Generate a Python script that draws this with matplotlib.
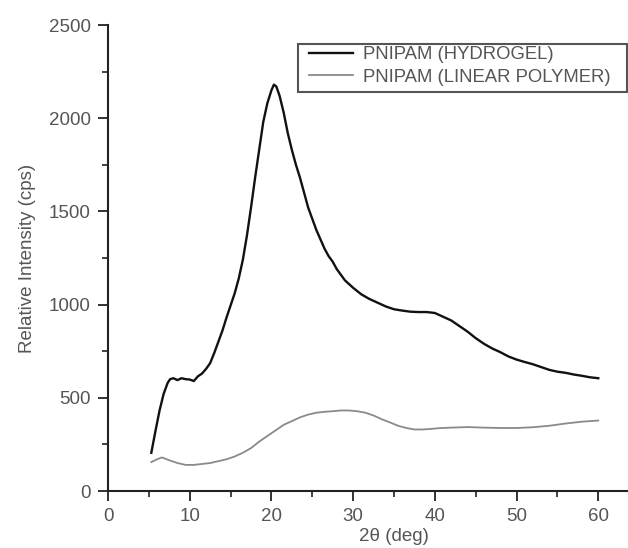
import matplotlib.pyplot as plt
import numpy as np
from matplotlib.patches import Rectangle

plt.rcParams['font.family'] = ['Liberation Sans', 'DejaVu Sans']

# PNIPAM hydrogel
hydrogel_2theta = [5.3, 5.8, 6.3, 6.8, 7.3, 7.6, 8.0, 8.5, 9.0, 9.5, 10.0, 10.5,
                   11.0, 11.5, 12.0, 12.5, 13.0, 13.5, 14.0, 14.5, 15.0, 15.5,
                   16.0, 16.5, 17.0, 17.5, 18.0, 18.5, 19.0, 19.5, 20.0, 20.3,
                   20.6, 21.0, 21.5, 22.0, 22.5, 23.0, 23.5, 24.0, 24.5, 25.0,
                   25.5, 26.0, 26.5, 27.0, 27.5, 28.0, 29.0, 30.0, 31.0, 32.0,
                   33.0, 34.0, 35.0, 36.0, 37.0, 38.0, 39.0, 40.0, 41.0, 42.0,
                   43.0, 44.0, 45.0, 46.0, 47.0, 48.0, 49.0, 50.0, 51.0, 52.0,
                   53.0, 54.0, 55.0, 56.0, 57.0, 58.0, 59.0, 60.0]
hydrogel_cps = [205, 320, 430, 520, 580, 600, 605, 595, 605, 600, 598, 590,
                615, 630, 655, 686, 740, 800, 860, 930, 995, 1060,
                1140, 1240, 1370, 1520, 1680, 1830, 1980, 2080, 2150, 2180,
                2170, 2120, 2030, 1920, 1830, 1750, 1680, 1600, 1520, 1460,
                1400, 1350, 1300, 1260, 1230, 1190, 1130, 1090, 1055, 1030,
                1010, 990, 975, 968, 962, 960, 960, 955, 935, 915,
                885, 855, 820, 790, 765, 745, 722, 705, 692, 680,
                665, 650, 640, 634, 625, 618, 610, 605]

# PNIPAM linear polymer
linear_2theta = [5.3, 6.0, 6.6, 7.5, 8.5, 9.5, 10.5, 11.5, 12.5, 13.5, 14.5,
                 15.5, 16.5, 17.5, 18.5, 19.5, 20.5, 21.5, 22.5, 23.5, 24.5,
                 25.5, 26.5, 27.5, 28.5, 29.5, 30.5, 31.5, 32.5, 33.5, 34.5,
                 35.5, 36.5, 37.5, 38.5, 39.5, 40.5, 42.0, 44.0, 46.0, 48.0,
                 50.0, 52.0, 54.0, 56.0, 58.0, 60.0]
linear_cps = [155, 170, 180, 165, 150, 140, 140, 145, 150, 160, 170,
              185, 205, 230, 265, 295, 325, 355, 375, 395, 410,
              420, 425, 428, 432, 432, 428, 420, 405, 385, 368,
              350, 338, 330, 330, 333, 337, 340, 343, 340, 338,
              338, 342, 350, 362, 372, 378]

W, H = 628, 548
fig = plt.figure(figsize=(W / 100, H / 100), dpi=100)
ax = fig.add_axes([108/W, 57/H, 572/W, 466/H])

ax.plot(hydrogel_2theta, hydrogel_cps, color='#111111', lw=1.7,
        label='PNIPAM (HYDROGEL)')
ax.plot(linear_2theta, linear_cps, color='#8a8a8a', lw=1.3,
        label='PNIPAM (LINEAR POLYMER)')

ax.set_xlim(0, 70)
ax.set_ylim(0, 2500)
ax.set_xticks(np.arange(0, 61, 10))
ax.set_xticks(np.arange(5, 66, 10), minor=True)
ax.set_yticks(np.arange(0, 2501, 500))
ax.set_yticks(np.arange(250, 2500, 500), minor=True)

for s in ['top', 'right']:
    ax.spines[s].set_visible(False)
for s in ['left', 'bottom']:
    ax.spines[s].set_linewidth(1.5)
    ax.spines[s].set_color('#222222')

txt = '#555555'
ax.tick_params(which='major', length=7.5, width=1.3, color='#222222',
               labelsize=13.5, labelcolor=txt)
ax.tick_params(which='minor', length=4, width=1.2, color='#222222')
ax.tick_params(axis='y', pad=5)
ax.tick_params(axis='x', pad=5)

ax.set_ylabel('Relative Intensity (cps)', fontsize=13.5, color=txt, labelpad=9)
ax.set_xlabel('2θ (deg)', fontsize=13.5, color=txt, labelpad=2)

# legend entries without frame, box drawn separately
leg = ax.legend(loc='upper left', bbox_to_anchor=(309/W, 1 - 46/H),
                bbox_transform=fig.transFigure, borderaxespad=0, borderpad=0,
                fontsize=13.3, handlelength=2.4, handletextpad=0.55,
                labelspacing=0.3, frameon=False)
for t in leg.get_texts():
    t.set_color(txt)
fig.patches.append(Rectangle((298/W, 1 - 92/H), 329/W, 48/H,
                             transform=fig.transFigure, fill=False,
                             edgecolor='#555555', lw=1.5))

fig.savefig('out.png', dpi=100)
